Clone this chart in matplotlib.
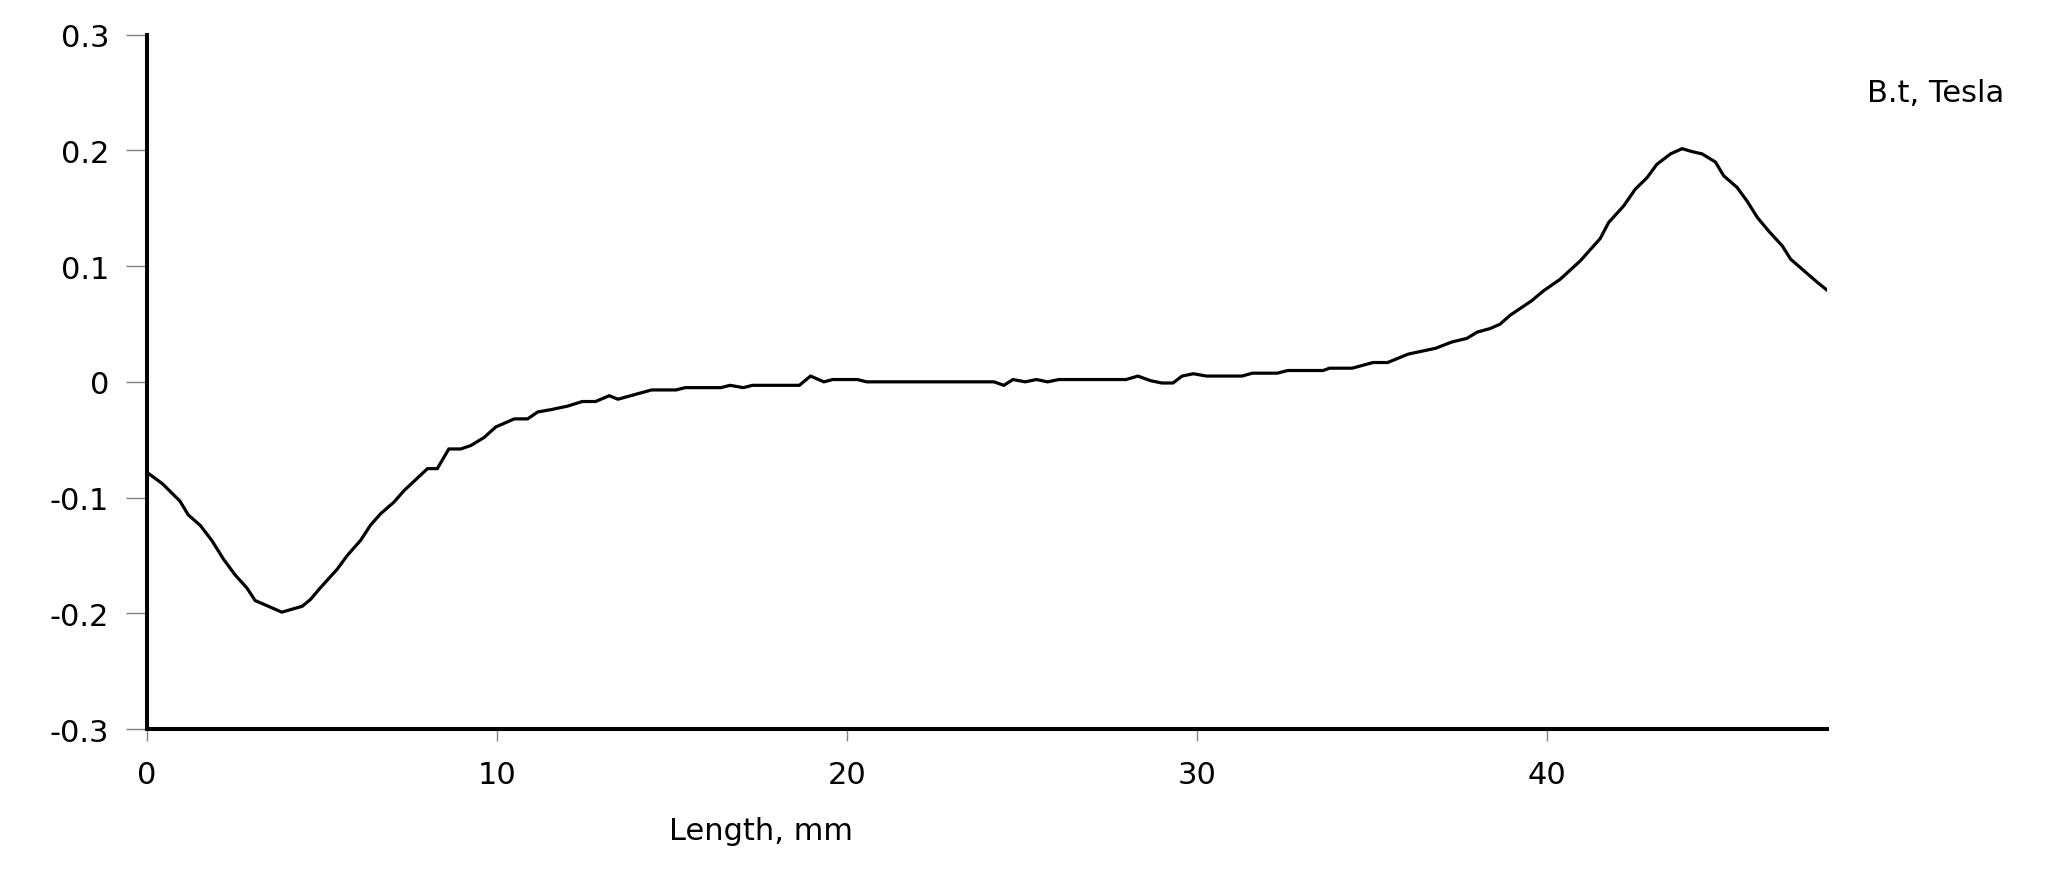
import matplotlib
matplotlib.use("Agg")
import matplotlib.pyplot as plt

# Data
length_mm = [0.00, 0.45, 0.95, 1.19, 1.53, 1.86, 2.19, 2.53, 2.86, 3.10, 3.86, 4.44, 4.68, 4.96,
             5.44, 5.73, 6.11, 6.39, 6.68, 7.06, 7.35, 8.02, 8.30, 8.63, 8.97, 9.26, 9.64, 9.97,
             10.50, 10.88, 11.17, 11.55, 12.02, 12.44, 12.82, 13.21, 13.46, 14.42, 15.12, 15.38,
             16.40, 16.66, 17.04, 17.30, 18.64, 18.96, 19.34, 19.59, 20.30, 20.56, 24.20, 24.48,
             24.74, 25.09, 25.41, 25.73, 26.05, 27.97, 28.31, 28.67, 28.99, 29.31, 29.57, 29.89,
             30.27, 31.28, 31.58, 32.29, 32.59, 33.60, 33.78, 34.43, 35.02, 35.44, 36.03, 36.81,
             37.28, 37.70, 38.00, 38.36, 38.65, 38.94, 39.55, 39.89, 40.37, 40.94, 41.51, 41.75,
             42.18, 42.51, 42.85, 43.13, 43.52, 43.85, 44.13, 44.42, 44.80, 45.04, 45.42, 45.71,
             46.00, 46.33, 46.71, 46.95, 47.33, 47.71, 48.00]
b_tesla = [-0.078, -0.088, -0.103, -0.115, -0.124, -0.137, -0.153, -0.167, -0.178, -0.189, -0.199,
           -0.194, -0.188, -0.178, -0.162, -0.150, -0.137, -0.124, -0.114, -0.104, -0.094, -0.075,
           -0.075, -0.058, -0.058, -0.055, -0.048, -0.039, -0.032, -0.032, -0.026, -0.024, -0.021,
           -0.017, -0.017, -0.012, -0.015, -0.007, -0.007, -0.005, -0.005, -0.003, -0.005, -0.003,
           -0.003, 0.005, 0.000, 0.002, 0.002, 0.000, 0.000, -0.003, 0.002, 0.000, 0.002, 0.000,
           0.002, 0.002, 0.005, 0.001, -0.001, -0.001, 0.005, 0.007, 0.005, 0.005, 0.0075, 0.0075,
           0.0098, 0.0098, 0.0118, 0.0118, 0.0167, 0.0167, 0.024, 0.029, 0.0345, 0.0375, 0.043,
           0.046, 0.0498, 0.0576, 0.070, 0.0786, 0.0887, 0.1045, 0.1238, 0.1376, 0.152, 0.1664,
           0.1765, 0.188, 0.197, 0.2015, 0.199, 0.197, 0.190, 0.178, 0.168, 0.156, 0.142, 0.130,
           0.1175, 0.106, 0.096, 0.086, 0.079]

x_ticks = [0, 10, 20, 30, 40]
x_tick_labels = ["0", "10", "20", "30", "40"]
y_ticks = [0.3, 0.2, 0.1, 0.0, -0.1, -0.2, -0.3]
y_tick_labels = ["0.3", "0.2", "0.1", "0", "-0.1", "-0.2", "-0.3"]
x_label = "Length, mm"
series_label = "B.t, Tesla"

plt.rcParams['font.family'] = ['DejaVu Sans']
fig = plt.figure(figsize=(20.48, 8.79), dpi=100)
ax = fig.add_axes([0.0716, 0.1695, 0.8207, 0.7899])

ax.plot(length_mm, b_tesla, color="black", lw=2.3, solid_joinstyle="miter")
ax.set_xlim(0, 48)
ax.set_ylim(-0.3, 0.3)

for s in ["top", "right"]:
    ax.spines[s].set_visible(False)
for s in ["left", "bottom"]:
    ax.spines[s].set_linewidth(2.9)
    ax.spines[s].set_color("black")

ax.set_xticks(x_ticks)
ax.set_xticklabels(x_tick_labels)
ax.set_yticks(y_ticks)
ax.set_yticklabels(y_tick_labels)
ax.tick_params(axis="y", direction="out", length=15, width=1.0, color="#808080",
               pad=12, labelsize=22)
ax.tick_params(axis="x", direction="out", length=8.6, width=1.0, color="#808080",
               pad=14, labelsize=22)

fig.text(761 / 2048, 1 - 832 / 879, x_label, ha="center", va="center", fontsize=22)
fig.text(1936 / 2048, 1 - 93 / 879, series_label, ha="center", va="center", fontsize=22)

fig.savefig("out.png", dpi=100, facecolor="white")
